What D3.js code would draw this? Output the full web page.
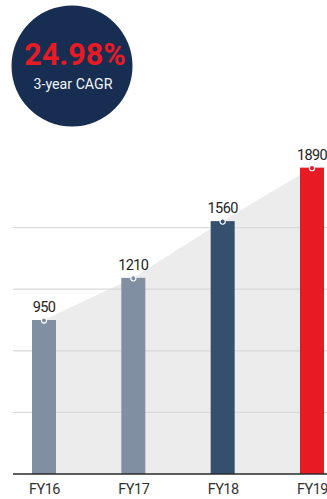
<!DOCTYPE html>
<html>
<head>
<meta charset="utf-8">
<script src="https://cdn.jsdelivr.net/npm/d3@7"></script>
<style>
  html, body { margin: 0; padding: 0; background: #fff; }
  svg { display: block; font-family: Roboto, "Noto Sans", sans-serif; }
</style>
</head>
<body>
<svg id="chart" width="327" height="499"></svg>
<script>
// Revenue by fiscal year
const categories = ["FY16", "FY17", "FY18", "FY19"];
const values = [950, 1210, 1560, 1890];
const barColors = ["#808fa2", "#808fa2", "#35506e", "#e81a24"];
const gridValues = [380, 760, 1140, 1520];
const cagrText = "24.98%";
const cagrLabel = "3-year CAGR";

const W = 327, H = 499;
const svg = d3.select("#chart");

const x = d3.scalePoint().domain(categories).range([44, 312]);
const y = d3.scaleLinear().domain([0, 2000]).range([474, 149.8]);
const barW = 24;

// shaded growth area joining the bar tops
const area = d3.area()
  .x(d => x(d.c)).y0(y(0)).y1(d => y(d.v))
  .curve(d3.curveLinear);
svg.append("path")
  .datum(categories.map((c, i) => ({ c, v: values[i] })))
  .attr("d", area)
  .attr("fill", "#ebeceb");

// horizontal gridlines, drawn over the shaded area
svg.append("g").selectAll("line")
  .data(gridValues).join("line")
  .attr("x1", 13).attr("x2", W)
  .attr("y1", d => y(d)).attr("y2", d => y(d))
  .attr("stroke", "#d8d9d9").attr("stroke-width", 1.2);

// bars
svg.append("g").selectAll("rect")
  .data(values).join("rect")
  .attr("x", (d, i) => x(categories[i]) - barW / 2)
  .attr("y", d => y(d))
  .attr("width", barW)
  .attr("height", d => y(0) - y(d))
  .attr("fill", (d, i) => barColors[i]);

// markers on bar tops
svg.append("g").selectAll("circle")
  .data(values).join("circle")
  .attr("cx", (d, i) => x(categories[i]))
  .attr("cy", d => y(d) + 0.5)
  .attr("r", 2.6)
  .attr("fill", (d, i) => barColors[i])
  .attr("stroke", "#fff").attr("stroke-width", 1.1);

// value labels
svg.append("g").selectAll("text")
  .data(values).join("text")
  .attr("x", (d, i) => x(categories[i]))
  .attr("y", d => y(d) - 8)
  .attr("text-anchor", "middle")
  .attr("font-size", 14.5)
  .attr("letter-spacing", -0.6)
  .attr("fill", "#222")
  .text(d => d);

// x axis
const xAxis = d3.axisBottom(x).tickSize(0).tickPadding(10);
const gx = svg.append("g").attr("transform", `translate(0,${y(0)})`).call(xAxis);
gx.select(".domain").remove();
gx.selectAll("text")
  .attr("font-size", 14.5)
  .attr("font-family", "Roboto, sans-serif")
  .attr("letter-spacing", -0.5)
  .attr("fill", "#333");
svg.append("line")
  .attr("x1", 13).attr("x2", W)
  .attr("y1", y(0)).attr("y2", y(0))
  .attr("stroke", "#2a2a2a").attr("stroke-width", 1.3);

// CAGR badge
const badge = svg.append("g");
badge.append("circle")
  .attr("cx", 72).attr("cy", 66).attr("r", 60.5)
  .attr("fill", "#172e52");
badge.append("text")
  .attr("x", 75).attr("y", 65)
  .attr("text-anchor", "middle")
  .attr("font-size", 30.5).attr("font-weight", 700)
  .attr("fill", "#e81a24")
  .text(cagrText);
badge.append("text")
  .attr("x", 73).attr("y", 88.5)
  .attr("text-anchor", "middle")
  .attr("font-size", 14.2)
  .attr("fill", "#f4f5f7")
  .text(cagrLabel);
</script>
</body>
</html>
